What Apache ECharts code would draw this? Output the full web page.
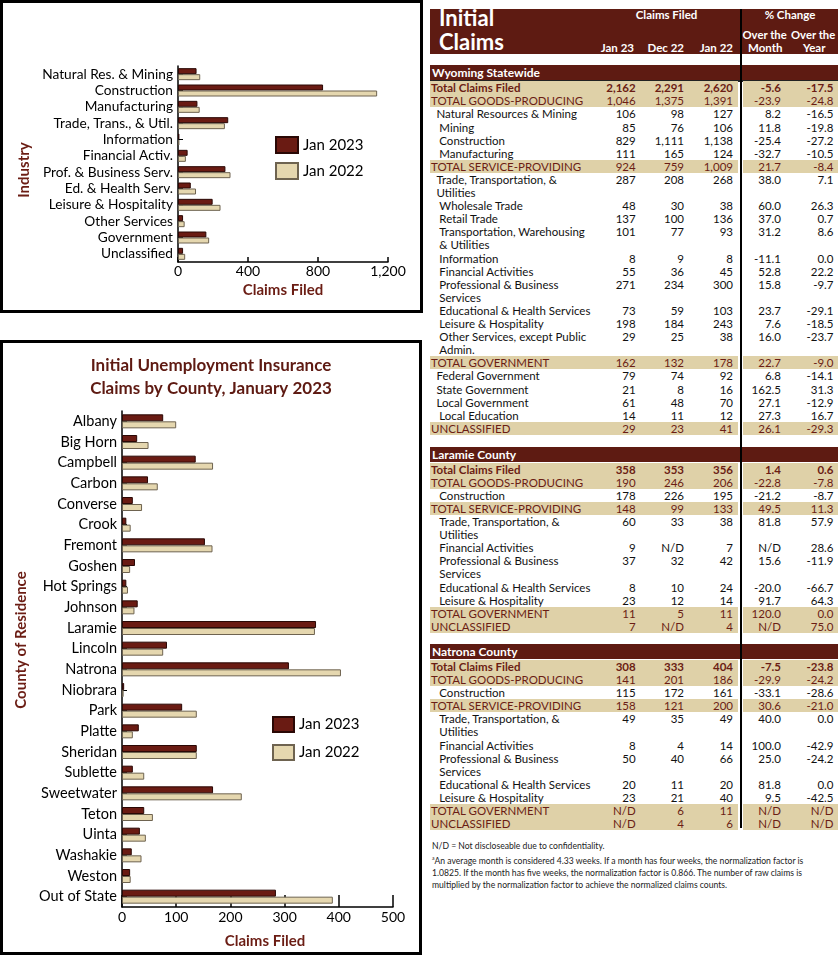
<!DOCTYPE html>
<html><head><meta charset="utf-8">
<script src="https://cdn.jsdelivr.net/npm/echarts@6/dist/echarts.min.js"></script>
<style>
html,body{margin:0;padding:0;background:#fff;}
body{width:840px;height:958px;position:relative;overflow:hidden;font-family:Lato,"DejaVu Sans",sans-serif;}
.chart{position:absolute;}
.frame{position:absolute;box-sizing:border-box;border:3px solid #000;pointer-events:none;}
.hdr{position:absolute;left:430px;top:9px;width:408px;height:45px;background:#5e1b12;}
.ht{position:absolute;color:#fff;font-weight:bold;white-space:nowrap;}
.sh{position:absolute;left:430px;width:406px;height:15px;background:#5e1b12;color:#fff;font-weight:bold;font-size:12px;line-height:15px;padding-left:2px;}
.band{position:absolute;height:13.1px;background:#dfd1a8;}
.lab,.num{position:absolute;font-size:11.5px;line-height:13.1px;color:#111;white-space:nowrap;}
.num{text-align:right;}
.red{color:#6b1d14;}
.bold{font-weight:bold;}
.vline{position:absolute;left:740px;top:9px;width:2px;height:819px;background:#000;}
.foot{position:absolute;left:432px;top:839.5px;font-size:8.6px;line-height:12.3px;color:#222;white-space:nowrap;}
</style></head>
<body>
<div id="c1" class="chart" style="left:0;top:0;width:423px;height:313px;"></div>
<div class="frame" style="left:0;top:0;width:423px;height:313px;"></div>
<div id="c2" class="chart" style="left:0;top:340px;width:422px;height:615px;"></div>
<div class="frame" style="left:0;top:340px;width:422px;height:615px;"></div>
<div id="tbl"></div>
<script>
// ---------- Industry chart data ----------
const industries = ['Natural Res. & Mining','Construction','Manufacturing','Trade, Trans., & Util.','Information','Financial Activ.','Prof. & Business Serv.','Ed. & Health Serv.','Leisure & Hospitality','Other Services','Government','Unclassified'];
const indJan2023 = [106,829,111,287,8,55,271,73,198,29,162,29];
const indJan2022 = [127,1138,124,268,8,45,300,103,243,38,178,41];

// ---------- County chart data ----------
const counties = ['Albany','Big Horn','Campbell','Carbon','Converse','Crook','Fremont','Goshen','Hot Springs','Johnson','Laramie','Lincoln','Natrona','Niobrara','Park','Platte','Sheridan','Sublette','Sweetwater','Teton','Uinta','Washakie','Weston','Out of State'];
const cntyJan2023 = [76,28,136,48,20,8,153,24,8,29,358,83,308,4,111,31,138,20,168,41,33,18,15,284];
const cntyJan2022 = [100,49,168,66,37,16,167,15,11,23,356,76,404,3,138,20,138,41,221,57,44,36,16,389];

// ---------- Table data ----------
const wyLabels = ['Total Claims Filed','TOTAL GOODS-PRODUCING','Natural Resources & Mining','Mining','Construction','Manufacturing','TOTAL SERVICE-PROVIDING','Trade, Transportation, &\nUtilities','Wholesale Trade','Retail Trade','Transportation, Warehousing\n& Utilities','Information','Financial Activities','Professional & Business\nServices','Educational & Health Services','Leisure & Hospitality','Other Services, except Public\nAdmin.','TOTAL GOVERNMENT','Federal Government','State Government','Local Government','Local Education','UNCLASSIFIED'];
const wyKinds = ['b','h',1,2,2,2,'h',1,2,2,2,2,2,2,2,2,2,'h',1,1,1,2,'h'];
const wyJan23 = ['2,162','1,046','106','85','829','111','924','287','48','137','101','8','55','271','73','198','29','162','79','21','61','14','29'];
const wyDec22 = ['2,291','1,375','98','76','1,111','165','759','208','30','100','77','9','36','234','59','184','25','132','74','8','48','11','23'];
const wyJan22 = ['2,620','1,391','127','106','1,138','124','1,009','268','38','136','93','8','45','300','103','243','38','178','92','16','70','12','41'];
const wyMonth = ['-5.6','-23.9','8.2','11.8','-25.4','-32.7','21.7','38.0','60.0','37.0','31.2','-11.1','52.8','15.8','23.7','7.6','16.0','22.7','6.8','162.5','27.1','27.3','26.1'];
const wyYear = ['-17.5','-24.8','-16.5','-19.8','-27.2','-10.5','-8.4','7.1','26.3','0.7','8.6','0.0','22.2','-9.7','-29.1','-18.5','-23.7','-9.0','-14.1','31.3','-12.9','16.7','-29.3'];

const cLabels = ['Total Claims Filed','TOTAL GOODS-PRODUCING','Construction','TOTAL SERVICE-PROVIDING','Trade, Transportation, &\nUtilities','Financial Activities','Professional & Business\nServices','Educational & Health Services','Leisure & Hospitality','TOTAL GOVERNMENT','UNCLASSIFIED'];
const cKinds = ['b','h',2,'h',2,2,2,2,2,'h','h'];
const laJan23 = ['358','190','178','148','60','9','37','8','23','11','7'];
const laDec22 = ['353','246','226','99','33','N/D','32','10','12','5','N/D'];
const laJan22 = ['356','206','195','133','38','7','42','24','14','11','4'];
const laMonth = ['1.4','-22.8','-21.2','49.5','81.8','N/D','15.6','-20.0','91.7','120.0','N/D'];
const laYear = ['0.6','-7.8','-8.7','11.3','57.9','28.6','-11.9','-66.7','64.3','0.0','75.0'];
const naJan23 = ['308','141','115','158','49','8','50','20','23','N/D','N/D'];
const naDec22 = ['333','201','172','121','35','4','40','11','21','6','4'];
const naJan22 = ['404','186','161','200','49','14','66','20','40','11','6'];
const naMonth = ['-7.5','-29.9','-33.1','30.6','40.0','100.0','25.0','81.8','9.5','N/D','N/D'];
const naYear = ['-23.8','-24.2','-28.6','-21.0','0.0','-42.9','-24.2','0.0','-42.5','N/D','N/D'];

const DARK = '#6a1b13', BEIGE = '#e5d7af', NAME = '#6b1d14';

// ---------- Industry chart ----------
const c1 = echarts.init(document.getElementById('c1'));
c1.setOption({
  animation:false,
  textStyle:{fontFamily:'Lato'},
  grid:{left:178,right:35,top:66,bottom:51},
  legend:{orient:'vertical',left:275,top:136,itemWidth:22,itemHeight:16,itemGap:8,padding:0,icon:'rect',
    textStyle:{fontSize:15,color:'#000',lineHeight:16,fontFamily:'Lato'},data:['Jan 2023','Jan 2022']},
  xAxis:{type:'value',min:0,max:1200,interval:400,
    axisLine:{show:true,lineStyle:{color:'#000',width:1.5}},
    axisTick:{show:true,inside:true,length:5,lineStyle:{color:'#000',width:1.5}},
    splitLine:{show:false},
    axisLabel:{color:'#000',fontSize:14,margin:2,fontFamily:'Lato',formatter:v=>v.toLocaleString('en-US')},
    name:'Claims Filed',nameLocation:'middle',nameGap:21,
    nameTextStyle:{color:NAME,fontWeight:'bold',fontSize:15,fontFamily:'Lato'}},
  yAxis:{type:'category',data:industries,inverse:true,
    axisLine:{show:true,lineStyle:{color:'#000',width:1.5}},
    axisTick:{show:true,inside:true,alignWithLabel:true,interval:0,length:5,lineStyle:{color:'#000'}},
    axisLabel:{color:'#000',fontSize:13.7,margin:5,interval:0,fontFamily:'Lato'}},
  graphic:[{type:'text',x:24,y:170,rotation:Math.PI/2,
    style:{text:'Industry',fill:NAME,font:'bold 15px Lato',align:'center',verticalAlign:'middle'}}],
  series:[
    {name:'Jan 2023',type:'bar',data:indJan2023,barWidth:6,barGap:'0%',
      itemStyle:{color:DARK,borderColor:'#2a0805',borderWidth:1}},
    {name:'Jan 2022',type:'bar',data:indJan2022,barWidth:6,barGap:'0%',
      itemStyle:{color:BEIGE,borderColor:'#6e6350',borderWidth:1}}
  ]
});

// ---------- County chart ----------
const c2 = echarts.init(document.getElementById('c2'));
c2.setOption({
  animation:false,
  textStyle:{fontFamily:'Lato'},
  title:{text:'Initial Unemployment Insurance\nClaims by County, January 2023',left:'center',top:9,
    textStyle:{color:'#5e1a12',fontSize:17,fontWeight:'bold',lineHeight:23,fontFamily:'Lato'}},
  grid:{left:122,right:29,top:71,bottom:48},
  legend:{orient:'vertical',left:272,top:376,itemWidth:21,itemHeight:15,itemGap:11,padding:0,icon:'rect',
    textStyle:{fontSize:15,color:'#000',lineHeight:15,fontFamily:'Lato'},data:['Jan 2023','Jan 2022']},
  xAxis:{type:'value',min:0,max:500,interval:100,
    axisLine:{show:true,lineStyle:{color:'#000',width:1.5}},
    axisTick:{show:true,inside:true,length:12,lineStyle:{color:'#000',width:1.5}},
    splitLine:{show:false},
    axisLabel:{color:'#000',fontSize:14,margin:3,fontFamily:'Lato'},
    name:'Claims Filed',nameLocation:'middle',nameGap:27,
    nameTextStyle:{color:NAME,fontWeight:'bold',fontSize:15,fontFamily:'Lato',padding:[0,0,0,15]}},
  yAxis:{type:'category',data:counties,inverse:true,
    axisLine:{show:true,lineStyle:{color:'#000',width:1.5}},
    axisTick:{show:true,inside:true,alignWithLabel:true,interval:0,length:5,lineStyle:{color:'#000'}},
    axisLabel:{color:'#000',fontSize:14.5,margin:5,interval:0,fontFamily:'Lato'}},
  graphic:[{type:'text',x:21,y:300,rotation:Math.PI/2,
    style:{text:'County of Residence',fill:NAME,font:'bold 15px Lato',align:'center',verticalAlign:'middle'}}],
  series:[
    {name:'Jan 2023',type:'bar',data:cntyJan2023,barWidth:7,barGap:'0%',
      itemStyle:{color:DARK,borderColor:'#2a0805',borderWidth:1}},
    {name:'Jan 2022',type:'bar',data:cntyJan2022,barWidth:7,barGap:'0%',
      itemStyle:{color:BEIGE,borderColor:'#6e6350',borderWidth:1}}
  ]
});

// ---------- Table ----------
const LH = 13.1;
const colRights = [635.7,684,733,781,833.5];
const indentX = {b:431,h:431,1:436.5,2:439.3};
let html = '';
html += '<div class="hdr"></div>';
html += '<div class="ht" style="left:439px;top:7px;font-size:22px;line-height:22px;">Initial</div>';
html += '<div class="ht" style="left:439px;top:30.5px;font-size:22px;line-height:22px;">Claims</div>';
html += '<div class="ht" style="left:600px;width:133px;text-align:center;top:8px;font-size:11.5px;line-height:14px;">Claims Filed</div>';
html += '<div class="ht" style="left:742px;width:96px;text-align:center;top:8px;font-size:11.5px;line-height:14px;">% Change</div>';
html += '<div class="ht" style="left:742.5px;top:28px;font-size:11.3px;line-height:14px;">Over the</div>';
html += '<div class="ht" style="left:791px;top:28px;font-size:11.3px;line-height:14px;">Over the</div>';
html += '<div class="ht" style="left:748px;top:41px;font-size:11.5px;line-height:14px;">Month</div>';
html += '<div class="ht" style="left:803px;top:41px;font-size:11.5px;line-height:14px;">Year</div>';
[['Jan 23',634],['Dec 22',684],['Jan 22',733]].forEach(h=>{
  html += `<div class="ht" style="right:${840-h[1]}px;top:41px;font-size:11.5px;line-height:14px;">${h[0]}</div>`;
});
function section(top, name, labels, kinds, cols, line){
  html += `<div class="sh" style="top:${top}px">${name}</div>`;
  if(line) html += `<div style="position:absolute;left:430px;width:408px;top:${top+15}px;height:1.5px;background:#222"></div>`;
  let y = top + 16.2;
  labels.forEach((lab,i)=>{
    const lines = lab.split('\n').length;
    const k = kinds[i];
    const cls = k==='b' ? 'bold red' : (k==='h' ? 'red' : '');
    if(k==='b'||k==='h'){
      html += `<div class="band" style="top:${y}px;left:430px;width:308px"></div>`;
      html += `<div class="band" style="top:${y}px;left:742.8px;width:95.2px"></div>`;
    }
    html += `<div class="lab ${cls}" style="top:${y}px;left:${indentX[k]}px">${lab.replace('\n','<br>')}</div>`;
    cols.forEach((c,j)=>{
      html += `<div class="num ${cls}" style="top:${y}px;right:${840-colRights[j]}px">${c[i]}</div>`;
    });
    y += lines*LH;
  });
}
section(65,'Wyoming Statewide',wyLabels,wyKinds,[wyJan23,wyDec22,wyJan22,wyMonth,wyYear],true);
section(446.5,'Laramie County',cLabels,cKinds,[laJan23,laDec22,laJan22,laMonth,laYear],false);
section(643.8,'Natrona County',cLabels,cKinds,[naJan23,naDec22,naJan22,naMonth,naYear],false);
html += '<div class="vline"></div>';
html += '<div class="foot">N/D = Not discloseable due to confidentiality.<br><sup style="font-size:5px">a</sup>An average month is considered 4.33 weeks. If a month has four weeks, the normalization factor is<br>1.0825. If the month has five weeks, the normalization factor is 0.866. The number of raw claims is<br>multiplied by the normalization factor to achieve the normalized claims counts.</div>';
document.getElementById('tbl').innerHTML = html;
</script>
</body></html>
